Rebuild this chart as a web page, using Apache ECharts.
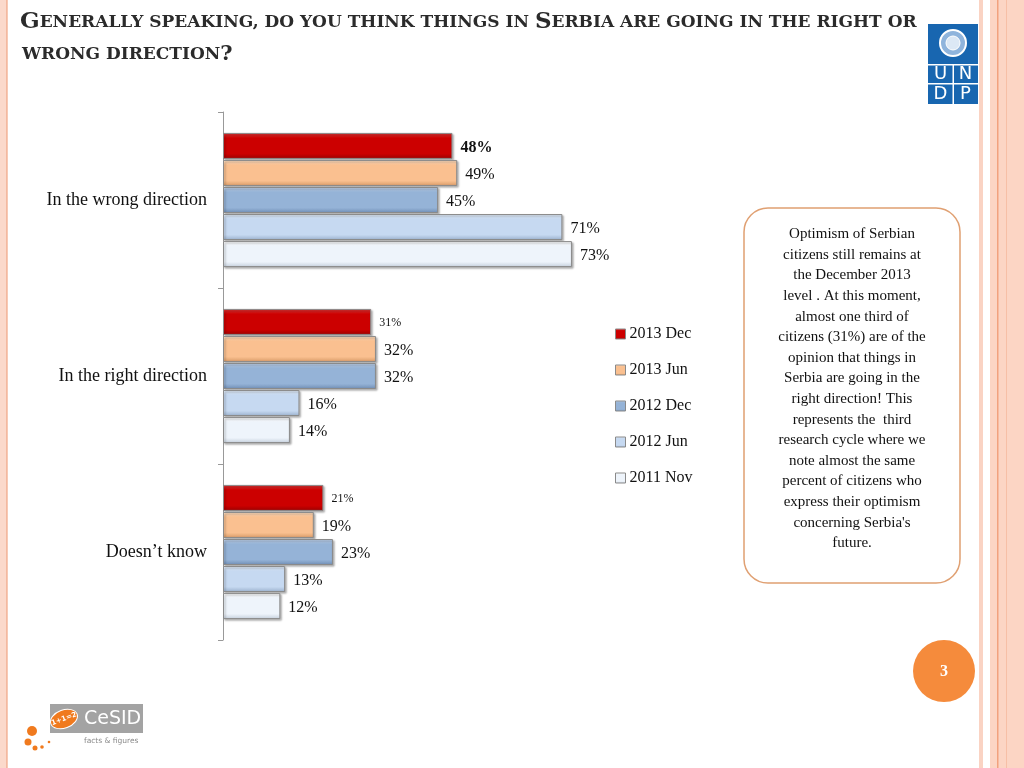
<!DOCTYPE html>
<html><head><meta charset="utf-8">
<script src="https://cdn.jsdelivr.net/npm/echarts@6/dist/echarts.min.js"></script>
<style>html,body{margin:0;padding:0;background:#fff}#c{width:1024px;height:768px}</style>
</head><body><div id="c"></div>
<script>
const categories = ['In the wrong direction', 'In the right direction', 'Doesn\u2019t know'];
const seriesNames = ['2013 Dec', '2013 Jun', '2012 Dec', '2012 Jun', '2011 Nov'];
const dec2013 = [48, 31, 21];
const jun2013 = [49, 32, 19];
const dec2012 = [45, 32, 23];
const jun2012 = [71, 16, 13];
const nov2011 = [73, 14, 12];
const values = [dec2013, jun2013, dec2012, jun2012, nov2011];
const noteText = ['Optimism of Serbian','citizens still remains at','the December 2013','level . At this moment,','almost one third of','citizens (31%) are of the','opinion that things in','Serbia are going in the','right direction! This','represents the  third','research cycle where we','note almost the same','percent of citizens who','express their optimism','concerning Serbia\'s','future.'];

const SERIF = '"Liberation Serif","DejaVu Serif",serif';
const TSERIF = '"DejaVu Serif","Liberation Serif",serif';
const palettes = [
  ['#E23A3A', '#CC0000', '#9A0000'],
  ['#FFE0C4', '#FAC090', '#D89A66'],
  ['#C4D6EE', '#95B3D7', '#6F8DB4'],
  ['#E4EEFA', '#C6D9F1', '#9AB0CC'],
  ['#FFFFFF', '#EEF4FB', '#C4CFDC']
];
function grad(p){
  return {type:'linear',x:0,y:0,x2:0,y2:1,colorStops:[
    {offset:0,color:p[0]},{offset:0.2,color:p[1]},{offset:0.8,color:p[1]},{offset:1,color:p[2]}]};
}
const series = seriesNames.map((name, si) => ({
  name, type:'bar', barWidth:26, barGap:'4%',
  itemStyle:{color:grad(palettes[si]), borderColor:'#8A8A8A', borderWidth:1,
    shadowColor:'rgba(0,0,0,0.3)', shadowBlur:2, shadowOffsetX:1.5, shadowOffsetY:1.5},
  label:{show:true, position:'right', distance:8, color:'#111', fontFamily:SERIF, fontSize:16,
    offset:[0,2], formatter:'{c}%'},
  data: values[si].map((v, ci) => {
    const d = {value:v};
    if (si===0 && ci===0) d.label = {fontWeight:'bold'};
    if (si===0 && ci>0) d.label = {fontSize:12, offset:[0,1]};
    return d;
  })
}));

const chart = echarts.init(document.getElementById('c'));
const g = [];
// slide borders
g.push({type:'rect', shape:{x:0,y:0,width:8,height:768}, style:{fill:'#FBD9CB'}});
g.push({type:'rect', shape:{x:6,y:0,width:1.5,height:768}, style:{fill:'#F3B9A0'}});
g.push({type:'rect', shape:{x:979,y:0,width:4,height:768}, style:{fill:'#FAD3C3'}});
g.push({type:'rect', shape:{x:990,y:0,width:34,height:768}, style:{fill:'#FCD5C4'}});
g.push({type:'rect', shape:{x:997,y:0,width:1.5,height:768}, style:{fill:'#F2A27E'}});
g.push({type:'rect', shape:{x:1006,y:0,width:1,height:768}, style:{fill:'#F7BFA6'}});
// title
g.push({type:'text', left:20, top:11, style:{
  text:'{a|G}{b|ENERALLY SPEAKING, DO YOU THINK THINGS IN }{a|S}{b|ERBIA ARE GOING IN THE RIGHT OR}',
  rich:{a:{fontSize:23,fontWeight:'bold',fontFamily:TSERIF,fill:'#2b2b2b'},
        b:{fontSize:17,fontWeight:'bold',fontFamily:TSERIF,fill:'#2b2b2b'}}}});
g.push({type:'text', left:22, top:44, style:{
  text:'{b|WRONG DIRECTION}{a|?}',
  rich:{a:{fontSize:21,fontWeight:'bold',fontFamily:TSERIF,fill:'#2b2b2b'},
        b:{fontSize:17,fontWeight:'bold',fontFamily:TSERIF,fill:'#2b2b2b'}}}});
// UNDP logo
g.push({type:'rect', shape:{x:928,y:24,width:50,height:80}, style:{fill:'#1866B0'}});
g.push({type:'circle', shape:{cx:953,cy:43,r:13}, style:{fill:'#8FB4DC', stroke:'#fff', lineWidth:2}});
g.push({type:'circle', shape:{cx:953,cy:43,r:7}, style:{fill:'#DCE8F5', stroke:'#fff', lineWidth:1}});
g.push({type:'rect', shape:{x:928,y:64,width:50,height:1.5}, style:{fill:'#fff'}});
g.push({type:'rect', shape:{x:928,y:83,width:50,height:1.5}, style:{fill:'#fff'}});
g.push({type:'rect', shape:{x:952.5,y:64,width:1.5,height:40}, style:{fill:'#fff'}});
[['U',940.5,74.5],['N',965.5,74.5],['D',940.5,94],['P',965.5,94]].forEach(t=>{
  g.push({type:'text', x:t[1], y:t[2], style:{text:t[0], fill:'#fff', fontSize:18, fontFamily:'"DejaVu Sans",sans-serif', align:'center', verticalAlign:'middle'}});
});
// note box
g.push({type:'rect', shape:{x:744,y:208,width:216,height:375,r:24}, style:{fill:'#fff', stroke:'#E0A072', lineWidth:1.5}});
g.push({type:'text', x:852, y:224, style:{text:noteText.join('\n'), fill:'#111', fontSize:15, fontFamily:SERIF, align:'center', verticalAlign:'top', lineHeight:20.6}});
// page number
g.push({type:'circle', shape:{cx:944,cy:671,r:31}, style:{fill:'#F58B3C'}});
g.push({type:'text', x:944, y:672, style:{text:'3', fill:'#fff', fontSize:16, fontWeight:'bold', fontFamily:SERIF, align:'center', verticalAlign:'middle'}});
// CeSID logo
g.push({type:'rect', shape:{x:50,y:704,width:93,height:29}, style:{fill:'#A3A3A3'}});
g.push({type:'ellipse', shape:{cx:64,cy:719,rx:14,ry:9}, rotation:0.35, originX:64, originY:719, style:{fill:'#F07A1E', stroke:'#fff', lineWidth:1}});
g.push({type:'text', x:64, y:719, rotation:0.35, style:{text:'1+1=2', fill:'#fff', fontSize:7, fontWeight:'bold', fontFamily:'"DejaVu Sans",sans-serif', align:'center', verticalAlign:'middle'}});
g.push({type:'text', x:84, y:719, style:{text:'CeSID', fill:'#fff', fontSize:19, fontFamily:'"DejaVu Sans",sans-serif', verticalAlign:'middle'}});
g.push({type:'text', x:84, y:741, style:{text:'facts & figures', fill:'#8a8a8a', fontSize:7.5, fontFamily:'"DejaVu Sans",sans-serif', verticalAlign:'middle'}});
[[32,731,5],[28,742,3.5],[35,748,2.5],[42,747,1.8],[49,742,1.3]].forEach(d=>{
  g.push({type:'circle', shape:{cx:d[0],cy:d[1],r:d[2]}, style:{fill:'#F07A1E'}});
});

chart.setOption({
  animation:false,
  backgroundColor:'#fff',
  grid:{left:223, top:112, width:478, height:528},
  xAxis:{type:'value', min:0, max:100, show:false},
  yAxis:{type:'category', data:categories, inverse:true,
    axisLine:{lineStyle:{color:'#999'}},
    axisTick:{show:true, length:5, lineStyle:{color:'#999', width:1}},
    axisLabel:{color:'#111', fontFamily:SERIF, fontSize:18, margin:16}},
  legend:{orient:'vertical', left:610, top:321, itemGap:20, itemWidth:10, itemHeight:10, icon:'rect',
    textStyle:{fontFamily:SERIF, fontSize:16, color:'#111', padding:[0,0,0,-1]},
    itemStyle:{borderColor:'#8A8A8A', borderWidth:1}, data:seriesNames},
  graphic:g,
  series
});
</script></body></html>
